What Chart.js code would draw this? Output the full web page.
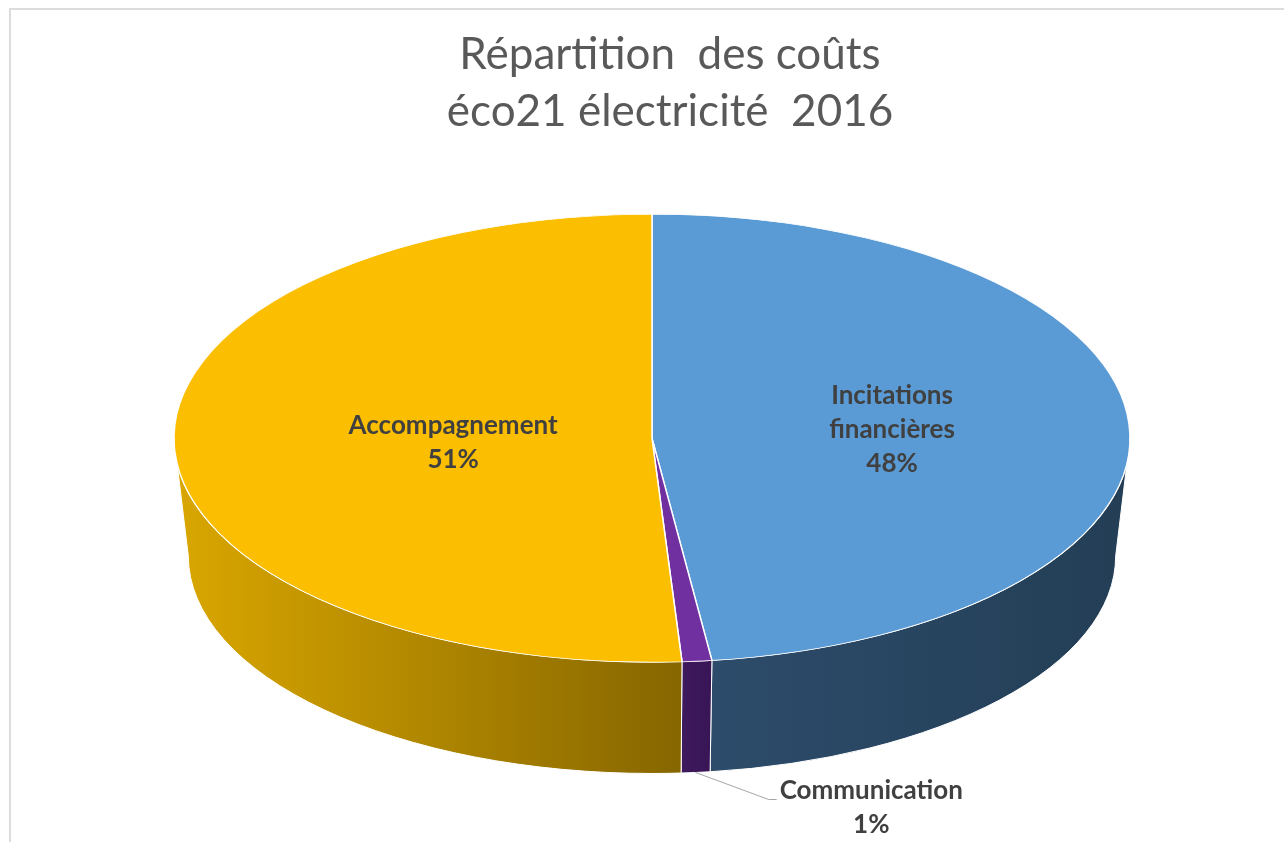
<!DOCTYPE html>
<html>
<head>
<meta charset="utf-8">
<script src="https://cdn.jsdelivr.net/npm/chart.js@4.4.0/dist/chart.umd.min.js"></script>
<style>
  html, body { margin: 0; padding: 0; background: #fff; overflow: hidden; }
  #frame { position: absolute; left: 9px; top: 8px; width: 1330px; height: 900px; border: 2px solid #dcdcdc; }
  #pie { position: absolute; left: 0; top: 0; }
</style>
</head>
<body>
<div id="frame"></div>
<canvas id="pie" width="1284" height="842"></canvas>
<script>
var categories = ['Incitations financières', 'Communication', 'Accompagnement'];
var costShare = [48, 1, 51];
var titleLines = ['Répartition  des coûts', 'éco21 électricité  2016'];
var topColors = ['#5B9BD5', '#7030A0', '#FBBE00'];
var sideColors = [['#2D4C6B', '#233E55'], ['#3E1A5E', '#381555'], ['#DAA700', '#866600']];

// fake 3D: squash the pie into an ellipse and paint a side wall under it
var pie3d = {
	id: 'pie3d',
	beforeDatasetsDraw: function(chart, args, opts) {
		var ctx = chart.ctx;
		var arcs = chart.getDatasetMeta(0).data;
		var cx = arcs[0].x + opts.shiftX, cy = arcs[0].y;
		var r = arcs[0].outerRadius, ry = r * opts.tilt;
		var rb = r * opts.bottomScale, ryb = ry * opts.bottomScale;

		arcs.forEach(function(arc, i) {
			for (var k = -1; k <= 1; k++) {
				var a0 = Math.max(arc.startAngle, k * 2 * Math.PI);
				var a1 = Math.min(arc.endAngle, k * 2 * Math.PI + Math.PI);
				if (a1 <= a0) continue;
				var xl = cx + r * Math.cos(a1), xr = cx + r * Math.cos(a0);
				var g = ctx.createLinearGradient(xl, 0, xr, 0);
				g.addColorStop(0, sideColors[i][0]);
				g.addColorStop(1, sideColors[i][1]);
				ctx.beginPath();
				ctx.ellipse(cx, cy, r, ry, 0, a0, a1);
				ctx.ellipse(cx, cy + opts.depth, rb, ryb, 0, a1, a0, true);
				ctx.closePath();
				ctx.fillStyle = g;
				ctx.fill();
				ctx.lineWidth = 1;
				ctx.strokeStyle = '#ffffff';
				ctx.stroke();
			}
		});

		ctx.save();
		ctx.translate(cx, cy);
		ctx.scale(1, opts.tilt);
		ctx.translate(-arcs[0].x, -cy);
	},
	afterDatasetsDraw: function(chart, args, opts) {
		var ctx = chart.ctx;
		ctx.restore();
		var arcs = chart.getDatasetMeta(0).data;
		var cx = arcs[0].x + opts.shiftX, cy = arcs[0].y;
		var r = arcs[0].outerRadius, ry = r * opts.tilt;
		var total = costShare.reduce(function(a, b) { return a + b; }, 0);

		ctx.save();
		ctx.font = opts.font;
		ctx.fillStyle = '#404040';
		ctx.textAlign = 'center';
		ctx.textBaseline = 'middle';

		arcs.forEach(function(arc, i) {
			var share = costShare[i] / total;
			var lines;
			if (ctx.measureText(categories[i]).width > opts.wrapWidth) lines = categories[i].split(' ');
			else lines = [categories[i]];
			lines.push(Math.round(share * 100) + '%');
			var w = Math.max.apply(null, lines.map(function(s) { return ctx.measureText(s).width; }));
			var h = lines.length * opts.lineHeight;
			var mid = (arc.startAngle + arc.endAngle) / 2;
			var cos = Math.cos(mid), sin = Math.sin(mid);
			var bx, by;

			if (share >= opts.insideMin) {
				var ax = cx + r * opts.labelRadius * cos;
				by = cy + ry * opts.labelRadius * sin;
				bx = ax - Math.sign(cos) * w / 2;
			} else {
				var px = cx + r * opts.bottomScale * cos;
				var py = cy + ry * opts.bottomScale * sin + opts.depth;
				var ex = px + opts.leader[0], ey = py + opts.leader[1];
				ctx.beginPath();
				ctx.moveTo(px, py);
				ctx.lineTo(ex, ey);
				ctx.lineTo(ex + 8, ey);
				ctx.strokeStyle = '#a6a6a6';
				ctx.lineWidth = 1;
				ctx.stroke();
				bx = ex + 11 + w / 2;
				by = ey + 8;
			}

			lines.forEach(function(s, j) {
				ctx.fillText(s, bx, by - h / 2 + opts.lineHeight * (j + 0.5));
			});
		});
		ctx.restore();
	}
};

var ctx = document.getElementById('pie').getContext('2d');
var costChart = new Chart(ctx, {
	type: 'pie',
	data: {
		labels: categories,
		datasets: [
			{
				data: costShare,
				backgroundColor: topColors,
				borderColor: '#ffffff',
				borderWidth: 1.5,
				radius: 478
			}
		]
	},
	options: {
		responsive: false,
		animation: false,
		events: [],
		layout: {
			padding: { left: 56, right: 0, top: 0, bottom: 115 }
		},
		plugins: {
			legend: { display: false },
			tooltip: { enabled: false },
			title: {
				display: true,
				text: titleLines,
				color: '#595959',
				font: { family: 'Lato', size: 44, weight: 'normal', lineHeight: 1.3 },
				padding: { top: 26, bottom: 9 }
			},
			pie3d: {
				tilt: 0.4686,
				depth: 118,
				bottomScale: 0.97,
				shiftX: -18,
				labelRadius: 0.635,
				insideMin: 0.05,
				leader: [73, 27],
				wrapWidth: 220,
				lineHeight: 34,
				font: 'bold 26px Lato'
			}
		}
	},
	plugins: [pie3d]
});
</script>
</body>
</html>
